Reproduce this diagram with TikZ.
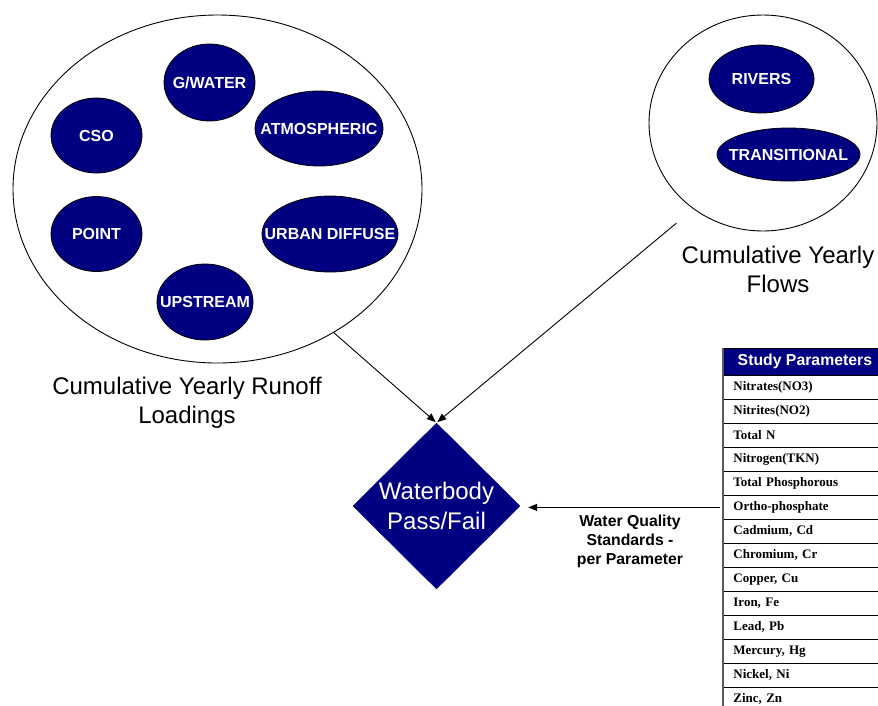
\documentclass[tikz,border=0pt]{standalone}
\usepackage{fontspec}
\setmainfont{Liberation Sans}
\newfontfamily\tabserif{Liberation Serif}
\usetikzlibrary{shapes.geometric,arrows.meta}
\definecolor{navyblue}{RGB}{0,0,128}
\newcommand\zw[1]{\makebox[0pt]{#1}}
\tikzset{
  source/.style={ellipse, draw=black, line width=0.8pt, fill=navyblue, text=white,
    font=\fontsize{16}{19}\selectfont\bfseries, inner sep=0pt},
  group/.style={ellipse, draw=black, line width=0.9pt, inner sep=0pt},
  caption/.style={align=center, font=\fontsize{24}{29}\selectfont},
  link/.style={draw=black, line width=0.9pt, -{Triangle[length=9pt,width=7pt]}},
  decision/.style={diamond, aspect=1, fill=navyblue, draw=navyblue, inner sep=0pt,
    minimum width=167pt, minimum height=166pt},
  decisiontext/.style={align=center, text=white, font=\fontsize{24}{30}\selectfont},
  hdrcell/.style={anchor=north west, draw=black, line width=0.8pt, fill=navyblue,
    text=white, minimum width=163pt, minimum height=27pt, inner sep=0pt,
    font=\fontsize{15.8}{19}\selectfont\bfseries},
  rowcell/.style={anchor=north west, draw=black, line width=0.8pt, minimum height=24pt,
    inner xsep=10pt, text width=143pt, align=left,
    font=\tabserif\fontsize{13}{15}\selectfont\bfseries},
  note/.style={align=center, font=\fontsize{15.8}{19}\selectfont\bfseries}
}
\begin{document}
\begin{tikzpicture}[x=1pt,y=-1pt]
\useasboundingbox (0,0) rectangle (878,705);
\clip (0,0) rectangle (878,705);

% runoff sources
\node[group, minimum width=409pt, minimum height=348pt] (runoff) at (217.5,189) {};
\node[source, minimum width=91pt, minimum height=77pt] (gw) at (209.5,82.5) {\zw{G/WATER}};
\node[source, minimum width=128pt, minimum height=75pt] (atm) at (319,128.5) {\zw{ATMOSPHERIC}};
\node[source, minimum width=91pt, minimum height=75pt] (cso) at (96.5,135.5) {\zw{CSO}};
\node[source, minimum width=91pt, minimum height=75pt] (point) at (96.5,234) {\zw{POINT}};
\node[source, minimum width=136pt, minimum height=76pt] (urban) at (330,234) {\zw{URBAN DIFFUSE}};
\node[source, minimum width=96pt, minimum height=76pt] (up) at (205,302) {\zw{UPSTREAM}};
\node[caption] (runoffcap) at (187,403) {Cumulative Yearly Runoff\\Loadings};

% flow sources
\node[group, minimum width=228pt, minimum height=216pt] (flows) at (763,123) {};
\node[source, minimum width=105pt, minimum height=68pt] (rivers) at (761.5,79) {\zw{RIVERS}};
\node[source, minimum width=143pt, minimum height=53pt] (trans) at (788.5,154.5) {\zw{TRANSITIONAL}};
\node[caption] (flowscap) at (778,269) {Cumulative Yearly\\Flows};

% decision
\node[decision] (dia) at (436.5,506) {};
\node[decisiontext] (diatxt) at (dia.center) {Waterbody\\Pass/Fail};

% parameter table
\node[hdrcell] (hdr) at (723,348) {Study Parameters};
\foreach \t [count=\i] in {Nitrates(NO3), Nitrites(NO2), Total N, Nitrogen(TKN),
    Total Phosphorous, Ortho-phosphate, {Cadmium, Cd}, {Chromium, Cr}, {Copper, Cu},
    {Iron, Fe}, {Lead, Pb}, {Mercury, Hg}, {Nickel, Ni}, {Zinc, Zn}}
  \node[rowcell] (row\i) at (723,{375+24*(\i-1)}) {\t};
\draw[black!65, line width=1.6pt] (hdr.north west) -- (row14.south west);

% connectors
\draw[link, shorten >=1pt] (runoff.-51.5) -- (dia.north);
\draw[link, shorten <=22pt, shorten >=1pt] (flows.-129) -- (dia.north);
\draw[link, shorten >=8pt] ([xshift=-3pt]row6.west) -- (row6.west -| dia.east);
\node[note] (wqs) at (630,541) {Water Quality\\Standards -\\per Parameter};
\end{tikzpicture}
\end{document}
